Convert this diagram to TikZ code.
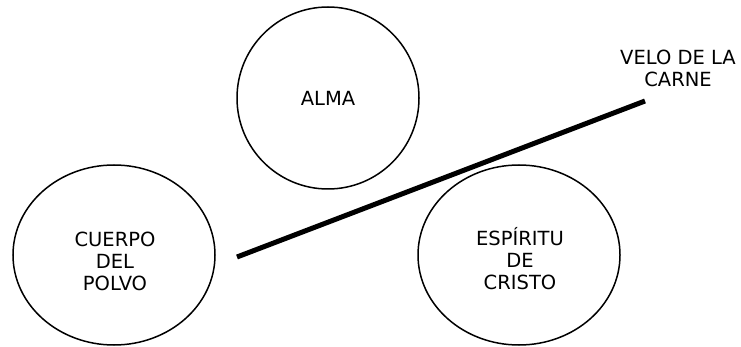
\documentclass[tikz,border=0pt]{standalone}
\usepackage{fontspec}
\setmainfont{DejaVu Sans}
\usetikzlibrary{shapes.geometric}
\begin{document}
\begin{tikzpicture}[x=1pt,y=-1pt,
  every node/.style={font=\fontsize{19.5}{22}\selectfont},
  bubble/.style={draw, ellipse, line width=1.5pt, inner sep=0pt, align=center},
  body/.style={bubble, minimum width=202pt, minimum height=180pt},
  soul/.style={bubble, minimum width=182pt, minimum height=182pt},
  caption/.style={align=center, inner sep=0pt},
  veil/.style={line width=5pt}]
  \useasboundingbox (0,0) rectangle (741,347);
  % the three parts
  \node[soul] (alma) at (328,98) {ALMA};
  \node[body] (cuerpo) at (114,255) {};
  \node[caption] (cuerpotxt) at (115,261) {CUERPO\\DEL\\POLVO};
  \node[body] (espiritu) at (519,255) {};
  \node[caption] (espiritutxt) at (520,259) {ESPÍRITU\\DE\\CRISTO};
  % the veil dividing them
  \coordinate (veloA) at (237,257);
  \coordinate (veloB) at (645,101);
  \draw[veil] (veloA) -- (veloB);
  \node[caption] (velo) at (678,68) {VELO DE LA\\CARNE};
\end{tikzpicture}
\end{document}
